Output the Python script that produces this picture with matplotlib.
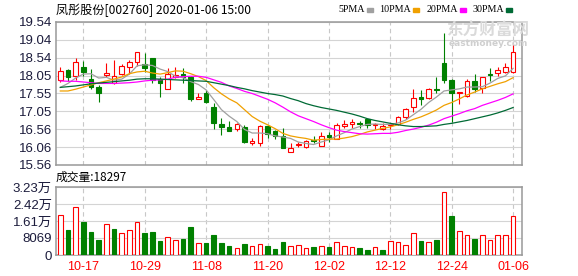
import numpy as np
import matplotlib.pyplot as plt

# 字体: 中文用 Noto Sans CJK, 其余回退到 DejaVu
plt.rcParams['font.family'] = ['Noto Sans CJK SC', 'DejaVu Sans']

# 交易日 2019-10-14 .. 2020-01-06
dates = ['10-14', '10-15', '10-16', '10-17', '10-18', '10-21', '10-22', '10-23', '10-24', '10-25',
         '10-28', '10-29', '10-30', '10-31', '11-01', '11-04', '11-05', '11-06', '11-07', '11-08',
         '11-11', '11-12', '11-13', '11-14', '11-15', '11-18', '11-19', '11-20', '11-21', '11-22',
         '11-25', '11-26', '11-27', '11-28', '11-29', '12-02', '12-03', '12-04', '12-05', '12-06',
         '12-09', '12-10', '12-11', '12-12', '12-13', '12-16', '12-17', '12-18', '12-19', '12-20',
         '12-23', '12-24', '12-25', '12-26', '12-27', '12-30', '12-31', '01-02', '01-03', '01-06']

opens = [17.93, 18.20, 18.04, 18.29, 17.94, 17.72, 18.07, 17.83, 18.09, 18.30,
         18.44, 18.37, 18.54, 17.95, 17.68, 18.01, 18.08, 18.02, 17.39, 17.56,
         17.17, 16.70, 16.62, 16.55, 16.61, 16.18, 16.16, 16.64, 16.50, 16.37,
         15.91, 16.12, 16.07, 16.26, 16.10, 16.40, 16.28, 16.65, 16.70, 16.72,
         16.83, 16.66, 16.56, 16.66, 16.69, 16.89, 17.18, 17.44, 17.42, 17.68,
         18.41, 17.93, 17.55, 17.47, 17.90, 17.71, 18.09, 18.11, 18.14, 18.14]
highs = [18.30, 18.24, 18.54, 18.45, 18.24, 17.78, 18.41, 18.48, 18.37, 18.48,
         18.70, 18.67, 18.54, 18.00, 18.25, 18.30, 18.25, 18.04, 17.55, 17.65,
         17.28, 16.86, 16.78, 16.72, 16.67, 16.30, 16.67, 16.65, 16.54, 16.58,
         16.16, 16.21, 16.26, 16.37, 16.47, 16.49, 16.74, 16.81, 16.84, 16.79,
         16.84, 16.72, 16.72, 16.74, 16.92, 17.15, 17.68, 17.65, 17.71, 18.02,
         19.24, 17.94, 17.59, 17.96, 18.09, 18.01, 18.25, 18.28, 18.41, 18.95]
lows = [17.88, 17.90, 17.93, 18.05, 17.68, 17.32, 18.01, 17.82, 18.07, 18.09,
        18.32, 18.16, 17.83, 17.46, 17.68, 17.97, 17.83, 17.35, 17.39, 17.28,
        16.57, 16.40, 16.50, 16.52, 16.18, 16.13, 16.10, 16.32, 16.28, 16.02,
        15.91, 16.05, 16.04, 16.16, 16.09, 16.21, 16.28, 16.58, 16.59, 16.58,
        16.60, 16.55, 16.54, 16.56, 16.68, 16.83, 17.03, 17.23, 17.39, 17.57,
        17.85, 16.77, 17.26, 17.46, 17.60, 17.56, 17.91, 18.04, 18.13, 18.13]
closes = [18.18, 18.02, 18.42, 18.15, 17.74, 17.55, 18.12, 18.04, 18.32, 18.43,
          18.70, 18.25, 17.93, 17.83, 18.09, 18.07, 18.02, 17.39, 17.45, 17.32,
          16.72, 16.61, 16.52, 16.69, 16.19, 16.22, 16.64, 16.41, 16.37, 16.04,
          16.03, 16.14, 16.23, 16.23, 16.36, 16.35, 16.66, 16.69, 16.75, 16.69,
          16.67, 16.71, 16.65, 16.71, 16.89, 17.11, 17.42, 17.41, 17.68, 17.65,
          17.93, 17.56, 17.59, 17.90, 17.67, 18.00, 18.06, 18.20, 18.28, 18.70]

ma5 = [17.72, 17.83, 17.98, 18.09, 18.10, 17.98, 18.00, 17.92, 17.95, 18.09,
       18.32, 18.35, 18.33, 18.23, 18.16, 18.03, 17.99, 17.88, 17.80, 17.65,
       17.38, 17.10, 16.92, 16.77, 16.55, 16.45, 16.45, 16.43, 16.37, 16.34,
       16.30, 16.20, 16.16, 16.13, 16.20, 16.26, 16.37, 16.46, 16.56, 16.63,
       16.69, 16.70, 16.69, 16.69, 16.73, 16.81, 16.96, 17.11, 17.30, 17.45,
       17.62, 17.65, 17.68, 17.73, 17.73, 17.74, 17.84, 17.97, 18.04, 18.25]
ma10 = [17.62, 17.62, 17.67, 17.73, 17.79, 17.85, 17.90, 17.95, 18.01, 18.10,
        18.15, 18.17, 18.12, 18.09, 18.13, 18.18, 18.17, 18.10, 18.02, 17.91,
        17.71, 17.54, 17.40, 17.29, 17.10, 16.91, 16.78, 16.68, 16.57, 16.44,
        16.37, 16.33, 16.30, 16.25, 16.27, 16.28, 16.28, 16.31, 16.35, 16.41,
        16.48, 16.53, 16.58, 16.62, 16.68, 16.75, 16.83, 16.90, 16.99, 17.09,
        17.22, 17.30, 17.40, 17.51, 17.59, 17.68, 17.75, 17.82, 17.88, 17.99]
ma20 = [17.90, 17.89, 17.89, 17.87, 17.85, 17.83, 17.83, 17.83, 17.84, 17.85,
        17.87, 17.90, 17.92, 17.93, 17.95, 18.00, 18.02, 18.03, 18.03, 18.00,
        17.93, 17.86, 17.76, 17.69, 17.61, 17.55, 17.47, 17.39, 17.29, 17.17,
        17.04, 16.93, 16.85, 16.77, 16.68, 16.60, 16.53, 16.49, 16.46, 16.43,
        16.42, 16.43, 16.44, 16.44, 16.47, 16.52, 16.56, 16.61, 16.67, 16.75,
        16.85, 16.92, 16.99, 17.07, 17.13, 17.22, 17.29, 17.36, 17.44, 17.54]
ma30 = [17.72, 17.74, 17.76, 17.79, 17.82, 17.84, 17.86, 17.88, 17.90, 17.92,
        17.95, 17.96, 17.96, 17.95, 17.94, 17.93, 17.92, 17.91, 17.90, 17.89,
        17.85, 17.81, 17.77, 17.72, 17.68, 17.63, 17.59, 17.55, 17.52, 17.48,
        17.41, 17.35, 17.27, 17.21, 17.16, 17.12, 17.08, 17.03, 16.98, 16.92,
        16.85, 16.80, 16.76, 16.72, 16.68, 16.65, 16.63, 16.63, 16.64, 16.65,
        16.69, 16.72, 16.76, 16.80, 16.85, 16.90, 16.95, 17.01, 17.08, 17.16]

volumes = [18890, 11800, 22670, 15580, 10860, 7080, 14950, 12280, 10390, 11650,
           15430, 10390, 10860, 6610, 8340, 7080, 7560, 13220, 5670, 5670,
           9440, 5670, 4250, 3150, 5190, 4090, 5040, 4250, 2830, 6140,
           4090, 4560, 3150, 3780, 4090, 3780, 5980, 4090, 3620, 3300,
           2360, 3620, 2360, 6450, 6140, 4560, 10230, 6610, 6140, 7080,
           30060, 18420, 11180, 9290, 7560, 9290, 6930, 9290, 9290, 18297]
# 成交量颜色: 1 = 涨(红), 0 = 跌(绿)
vol_up = [1, 0, 1, 0, 0, 0, 1, 0, 1, 1,
          1, 0, 0, 0, 1, 1, 0, 0, 1, 0,
          0, 0, 0, 1, 0, 1, 1, 0, 0, 0,
          1, 1, 1, 0, 1, 0, 1, 1, 1, 0,
          0, 1, 0, 1, 1, 1, 1, 0, 1, 0,
          1, 0, 1, 1, 0, 1, 1, 1, 1, 1]

price_labels = ['15.56', '16.06', '16.56', '17.05', '17.55', '18.05', '18.54', '19.04', '19.54']
vol_labels = ['0', '8069', '1.61万', '2.42万', '3.23万']
vol_max = 32276
date_ticks = ['10-17', '10-29', '11-08', '11-20', '12-02', '12-12', '12-24', '01-06']
ma_names = ['5PMA', '10PMA', '20PMA', '30PMA']
title = '凤彤股份[002760] 2020-01-06 15:00'

RED = '#ff0000'
GREEN = '#008000'
ma_colors = ['#a0a0a0', '#f0a000', '#ff00ff', '#006a35']
FRAME = '#999999'
TICK = '#1c1c3c'

W, H = 578, 276
fig = plt.figure(figsize=(W / 100, H / 100), dpi=100)


def px_axes(l, t, r, b):
    return fig.add_axes([l / W, 1 - b / H, (r - l) / W, (b - t) / H])


ax = px_axes(56, 22, 522, 165)
axv = px_axes(56, 187, 522, 255)

x = np.arange(len(dates))
o = np.array(opens)
h = np.array(highs)
l = np.array(lows)
c = np.array(closes)
up = c >= o
lo = np.minimum(o, c)
hi = np.maximum(o, c)
body = np.maximum(hi - lo, 0.01)
bw = 0.6

# K线
ax.vlines(x[up], hi[up], h[up], color=RED, lw=0.8, zorder=3)
ax.vlines(x[up], l[up], lo[up], color=RED, lw=0.8, zorder=3)
ax.bar(x[up], body[up], bottom=lo[up], width=bw, facecolor='white', edgecolor=RED, lw=0.8, zorder=3)
ax.vlines(x[~up], l[~up], h[~up], color=GREEN, lw=0.8, zorder=3)
ax.bar(x[~up], body[~up], bottom=lo[~up], width=bw, facecolor=GREEN, edgecolor=GREEN, lw=0.8, zorder=3)

# 均线
for ma, col in zip([ma5, ma10, ma20, ma30], ma_colors):
    ax.plot(x, ma, color=col, lw=0.9, zorder=4)

# 成交量
vu = np.array(vol_up) == 1
v = np.array(volumes)
axv.bar(x[vu], v[vu], width=bw, facecolor='white', edgecolor=RED, lw=0.8, zorder=3)
axv.bar(x[~vu], v[~vu], width=bw, facecolor=GREEN, edgecolor=GREEN, lw=0.8, zorder=3)

tick_idx = [dates.index(d) for d in date_ticks]
for a in (ax, axv):
    a.set_xlim(-0.56, 60.16)
    a.set_xticks(tick_idx)
    a.grid(axis='x', color='#c8c8c8', lw=0.8, ls=(0, (4, 3)), zorder=1)
    a.grid(axis='y', color='#d4d4d4', lw=0.8, zorder=1)
    for s in a.spines.values():
        s.set_color(FRAME)
        s.set_linewidth(1.1)
    a.tick_params(length=0, pad=3)

ax.set_ylim(15.56, 19.54)
ax.set_yticks(np.linspace(15.56, 19.54, len(price_labels)))
ax.set_yticklabels(price_labels, fontsize=9.5, color=TICK, family=['Liberation Sans', 'DejaVu Sans'])
ax.set_xticklabels([])

axv.set_ylim(0, vol_max)
axv.set_yticks(np.linspace(0, vol_max, len(vol_labels)))
axv.set_yticklabels(vol_labels, fontsize=9.5, color=TICK, family=['Liberation Sans', 'Noto Sans CJK SC'])
axv.set_xticklabels(date_ticks, fontsize=9, color=RED, family=['Liberation Sans', 'DejaVu Sans'])
axv.tick_params(axis='x', pad=4)

# 标题 / 成交量标签
fig.text(56 / W, 1 - 10 / H, title, fontsize=8.7, va='center', ha='left', color='black')
fig.text(56 / W, 1 - 177 / H, '成交量:%d' % volumes[-1], fontsize=8.5, va='center', ha='left', color='black')

# 水印
fig.text(488 / W, 1 - 31 / H, '东方财富网', fontsize=12, weight='bold', color='#dadada',
         ha='center', va='center', zorder=0)
fig.text(488 / W, 1 - 44 / H, 'eastmoney.com', fontsize=6.5, weight='bold', color='#cfcfcf',
         ha='center', va='center', family=['DejaVu Sans'], zorder=0)

# 图例
fig.canvas.draw()
r = fig.canvas.get_renderer()
cx = 338
for name, col in zip(ma_names, ma_colors):
    t = fig.text(cx / W, 1 - 10 / H, name, fontsize=7.2, va='center', ha='left',
                 family=['Liberation Serif', 'DejaVu Serif'])
    bb = t.get_window_extent(r)
    mx = bb.x1 + 2
    fig.patches.append(plt.Rectangle((mx / W, 1 - 11.5 / H), 6 / W, 3 / H, color=col,
                                     transform=fig.transFigure, figure=fig))
    cx = mx + 13

fig.savefig('out.png', dpi=100)
